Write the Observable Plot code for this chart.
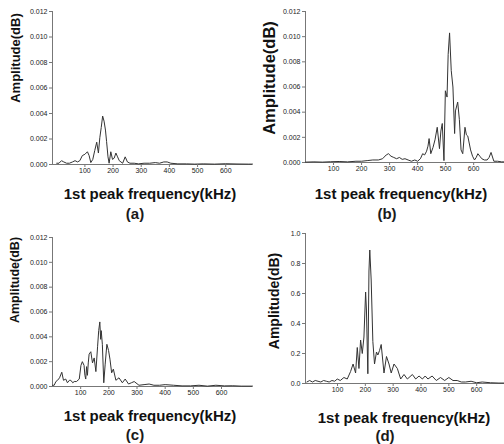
<!DOCTYPE html>
<html>
<head>
<meta charset="utf-8">
<script src="https://cdn.jsdelivr.net/npm/d3@7"></script>
<script src="https://cdn.jsdelivr.net/npm/@observablehq/plot@0.6"></script>
<style>
  body { margin: 0; background: #fff; }
  #root { position: relative; width: 504px; height: 444px; overflow: hidden; font-family: "Liberation Sans", Arial, sans-serif; }
  .panel { position: absolute; }
  .xlab { position: absolute; font-weight: bold; font-size: 15px; color: #111; white-space: nowrap; transform: translate(-50%, -50%); }
  .cap { position: absolute; font-size: 15px; font-weight: bold; color: #1a1a1a; white-space: nowrap; transform: translate(-50%, -50%); }
  .ylab { position: absolute; font-weight: bold; color: #111; white-space: nowrap; transform: translate(-50%, -50%) rotate(-90deg); }
</style>
</head>
<body>
<div id="root"></div>
<script>
// ---- data ----
const xTickValues = [100, 200, 300, 400, 500, 600];
const yTicksSmall = [0, 0.002, 0.004, 0.006, 0.008, 0.010, 0.012];
const yTicksD = [0, 0.2, 0.4, 0.6, 0.8, 1.0];
const panelLabels = ["(a)", "(b)", "(c)", "(d)"];
const xTitle = "1st peak frequency(kHz)";
const yTitle = "Amplitude(dB)";

const freqA = [0,8,17,25,35,45,56,65,74,82,91,100,109,115,121,128,135,142,148,153,158,163,168,173,177,182,186,192,198,204,210,216,222,228,234,243,251,260,275,290,310,330,350,365,380,392,405,430,460,490,520,560,600,640,680,695];
const ampA = [0.0001,0.0001,0.0003,0.0002,0.0001,0.0001,0.0002,0.0003,0.0002,0.0003,0.0007,0.0008,0.001,0.0007,0.00015,0.0004,0.0011,0.00175,0.0009,0.0021,0.0029,0.0038,0.0034,0.0027,0.0018,0.0006,0.0001,0.001,0.0004,0.0005,0.0009,0.0006,0.0003,0.0002,0.0001,0.0006,0.0002,0.0001,0.0001,0.00005,0.0001,0.0001,0.00015,0.0001,0.0002,0.0002,0.0001,0.00005,0.00005,0.00003,0.00005,0.00003,0.00006,0.00004,0.00003,0.00003];

const freqB = [0,30,60,90,120,150,180,200,220,240,260,275,288,296,305,315,325,335,345,355,366,378,390,400,410,418,425,432,437,441,447,455,462,470,478,483,488,494,499,505,509,514,520,526,532,535,543,549,555,561,569,574,579,589,596,603,609,615,622,629,638,648,655,662,672,685,700,710];
const ampB = [0.00003,0.00005,0.00003,0.00006,0.00008,0.00005,0.0001,0.0001,0.00015,0.0002,0.0002,0.0003,0.0006,0.0007,0.0005,0.0004,0.0003,0.0004,0.00025,0.0003,0.0002,0.0001,0.0002,0.0001,0.0003,0.0007,0.0006,0.0009,0.0013,0.0019,0.0007,0.0012,0.0018,0.0028,0.0011,0.0025,0.0031,0.00015,0.0057,0.0052,0.0086,0.0103,0.0073,0.006,0.0023,0.0041,0.0048,0.0034,0.001,0.0007,0.0028,0.0022,0.0021,0.001,0.0005,0.0002,0.0004,0.0007,0.0005,0.0003,0.0002,0.0002,0.0004,0.0008,0.0001,0.0001,0.00005,0.00005];

const freqC = [0,6,12,18,25,33,39,47,53,60,65,72,77,85,95,101,106,112,115,118,121,124,127,130,136,142,148,154,160,164,168,171,173,177,182,187,193,199,204,210,216,225,236,248,258,270,280,290,307,325,343,360,380,400,430,460,490,520,550,580,610,640,670,710];
const ampC = [0.0001,0.0001,0.0004,0.0005,0.0007,0.00115,0.0005,0.0006,0.0003,0.0005,0.0005,0.0003,0.0004,0.0004,0.0006,0.0017,0.002,0.0017,0.0009,0.0006,0.0016,0.0009,0.0019,0.0026,0.0028,0.0019,0.0023,0.0012,0.0032,0.0045,0.0052,0.0038,0.0045,0.0034,0.0003,0.0018,0.0034,0.0029,0.0022,0.0011,0.0014,0.0005,0.0007,0.0003,0.0006,0.0002,0.0003,0.0004,0.0001,0.00015,0.0002,0.0001,0.0001,0.00015,0.0001,0.00005,0.00005,0.0001,0.00003,0.0001,0.00005,0.00006,0.00003,0.00003];

const freqD = [-10,0,10,20,30,40,50,60,70,80,90,99,110,123,135,147,156,165,171,177,183,189,195,201,204,209,213,216,221,227,233,240,245,251,257,267,276,285,293,303,315,327,339,351,369,381,393,405,415,425,440,455,470,485,500,515,530,545,560,580,600,620,650,680,700];
const ampD = [0.01,0.02,0.01,0.02,0.015,0.01,0.02,0.015,0.01,0.02,0.015,0.03,0.02,0.04,0.03,0.08,0.13,0.07,0.24,0.1,0.29,0.2,0.31,0.61,0.49,0.065,0.75,0.89,0.69,0.28,0.13,0.21,0.19,0.22,0.26,0.07,0.18,0.13,0.07,0.13,0.1,0.03,0.06,0.03,0.06,0.03,0.05,0.03,0.05,0.03,0.05,0.02,0.04,0.02,0.04,0.02,0.02,0.01,0.01,0.015,0.005,0.01,0.005,0.003,0.003];

// ---- layout config ----
const panels = [
  {freq: freqA, amp: ampA, left: 0, top: 0, mL: 52, mT: 11, mB: 16, xDom: [-15, 695], yMax: 0.012, yTicks: yTicksSmall, fmt: ".3f",
   xlab: [150, 193], cap: [135, 213], ylab: [15, 58, 13]},
  {freq: freqB, amp: ampB, left: 252, top: 0, mL: 53, mT: 11, mB: 18, xDom: [0, 710], yMax: 0.012, yTicks: yTicksSmall, fmt: ".3f",
   xlab: [401, 193], cap: [387, 213], ylab: [269, 78, 16.5]},
  {freq: freqC, amp: ampC, left: 0, top: 222, mL: 52, mT: 15, mB: 16, xDom: [0, 710], yMax: 0.012, yTicks: yTicksSmall, fmt: ".3f",
   xlab: [150, 415], cap: [135, 434], ylab: [15, 280, 12.5]},
  {freq: freqD, amp: ampD, left: 252, top: 222, mL: 53, mT: 11, mB: 19, xDom: [-15, 700], yMax: 1.0, yTicks: yTicksD, fmt: ".1f",
   xlab: [404, 417], cap: [385, 435], ylab: [274, 301, 14]}
];

const root = document.getElementById("root");
panels.forEach((p, k) => {
  const chart = Plot.plot({
    width: 252, height: 180,
    marginLeft: p.mL, marginTop: p.mT, marginBottom: p.mB, marginRight: 0,
    x: {domain: p.xDom},
    y: {domain: [0, p.yMax]},
    style: {fontSize: "7px", fontFamily: "'Liberation Sans', Arial, sans-serif", color: "#222", overflow: "visible", background: "transparent"},
    marks: [
      Plot.ruleX([p.xDom[0]], {stroke: "#777", strokeWidth: 1}),
      Plot.ruleY([0], {stroke: "#777", strokeWidth: 1}),
      Plot.line(p.freq, {x: d => d, y: (d, i) => p.amp[i], stroke: "#333", strokeWidth: 1}),
      Plot.axisX({ticks: xTickValues, tickSize: 3, tickPadding: 1, tickFormat: d => String(d), label: null, stroke: "#777"}),
      Plot.axisY({ticks: p.yTicks, tickSize: 3, tickPadding: 2, tickFormat: d3.format(p.fmt), label: null, stroke: "#777"})
    ]
  });
  const wrap = document.createElement("div");
  wrap.className = "panel";
  wrap.style.left = p.left + "px";
  wrap.style.top = p.top + "px";
  wrap.appendChild(chart);
  root.appendChild(wrap);

  const xl = document.createElement("div");
  xl.className = "xlab"; xl.textContent = xTitle;
  xl.style.left = p.xlab[0] + "px"; xl.style.top = p.xlab[1] + "px";
  root.appendChild(xl);

  const cp = document.createElement("div");
  cp.className = "cap"; cp.textContent = panelLabels[k];
  cp.style.left = p.cap[0] + "px"; cp.style.top = p.cap[1] + "px";
  root.appendChild(cp);

  const yl = document.createElement("div");
  yl.className = "ylab"; yl.textContent = yTitle;
  yl.style.left = p.ylab[0] + "px"; yl.style.top = p.ylab[1] + "px";
  yl.style.fontSize = p.ylab[2] + "px";
  root.appendChild(yl);
});
</script>
</body>
</html>
